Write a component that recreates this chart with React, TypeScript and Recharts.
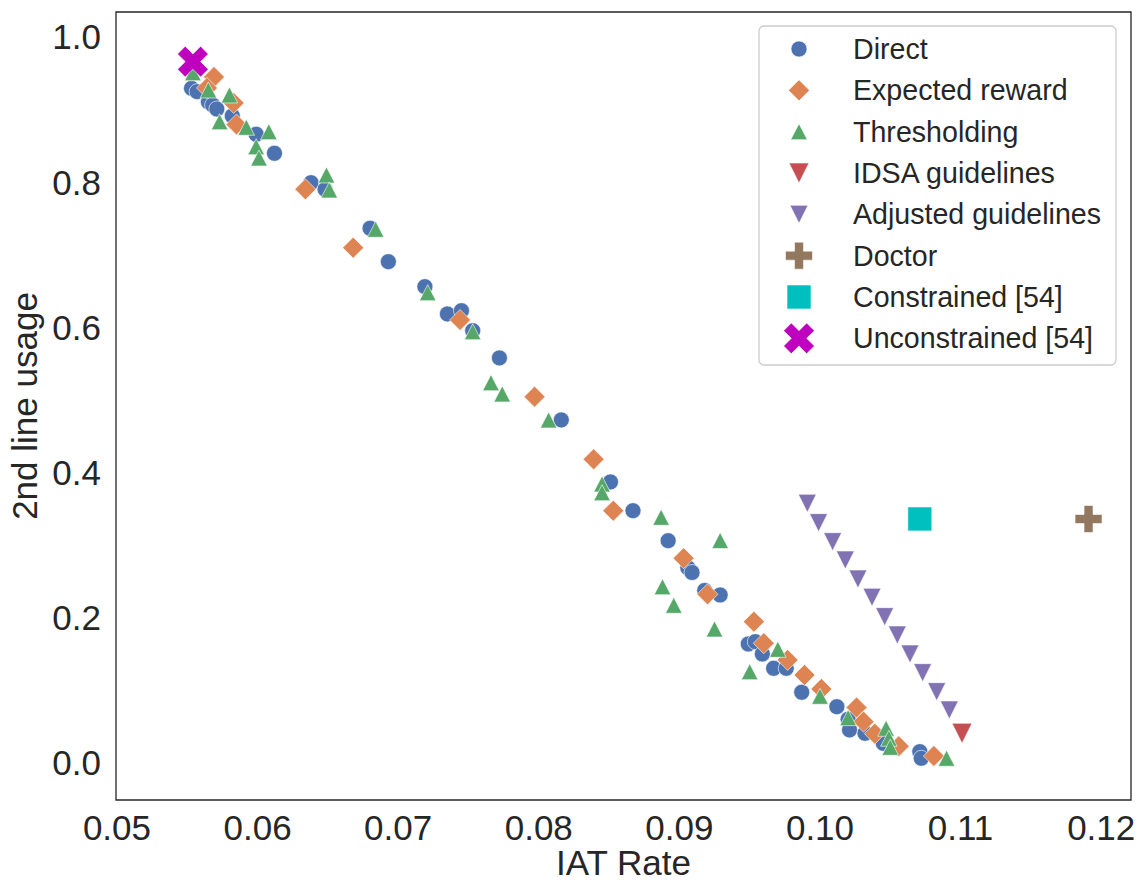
import { ScatterChart, Scatter, XAxis, YAxis, ReferenceArea } from "recharts";

// ---- data ----
const directX = [0.0553, 0.0557, 0.0565, 0.0568, 0.0571, 0.0582, 0.0599, 0.0612, 0.0638, 0.0648, 0.0680, 0.0693, 0.0719, 0.0735, 0.0745, 0.0753, 0.0772, 0.0816, 0.0851, 0.0867, 0.0892, 0.0906, 0.0909, 0.0918, 0.0929, 0.0949, 0.0954, 0.0959, 0.0967, 0.0976, 0.0987, 0.1012, 0.1020, 0.1021, 0.1032, 0.1045, 0.1071, 0.1072];
const directY = [0.9293, 0.9247, 0.9105, 0.9063, 0.9008, 0.8912, 0.8660, 0.8398, 0.7993, 0.7902, 0.7365, 0.6905, 0.6561, 0.6185, 0.6230, 0.5955, 0.5579, 0.4725, 0.3871, 0.3475, 0.3062, 0.2689, 0.2624, 0.2376, 0.2314, 0.1639, 0.1671, 0.1501, 0.1304, 0.1304, 0.0974, 0.0775, 0.0602, 0.0455, 0.0409, 0.0271, 0.0156, 0.0065];

const rewardX = [0.0569, 0.0564, 0.0583, 0.0585, 0.0634, 0.0668, 0.0744, 0.0797, 0.0839, 0.0853, 0.0903, 0.0920, 0.0953, 0.0960, 0.0977, 0.0989, 0.1001, 0.1026, 0.1031, 0.1039, 0.1056, 0.1081];
const rewardY = [0.9449, 0.9298, 0.9091, 0.8795, 0.7902, 0.7098, 0.6102, 0.5045, 0.4183, 0.3475, 0.2820, 0.2324, 0.1946, 0.1649, 0.1419, 0.1212, 0.1019, 0.0764, 0.0569, 0.0404, 0.0230, 0.0096];

const threshX = [0.0554, 0.0565, 0.0580, 0.0573, 0.0592, 0.0608, 0.0599, 0.0601, 0.0649, 0.0651, 0.0684, 0.0721, 0.0753, 0.0766, 0.0774, 0.0807, 0.0845, 0.0845, 0.0887, 0.0929, 0.0888, 0.0896, 0.0925, 0.0950, 0.0970, 0.1000, 0.1020, 0.1047, 0.1049, 0.1050, 0.1090];
const threshY = [0.9508, 0.9270, 0.9201, 0.8833, 0.8756, 0.8696, 0.8489, 0.8333, 0.8099, 0.7893, 0.7351, 0.6478, 0.5941, 0.5238, 0.5083, 0.4725, 0.3843, 0.3723, 0.3384, 0.3065, 0.2428, 0.2172, 0.1846, 0.1258, 0.1566, 0.0919, 0.0624, 0.0478, 0.0340, 0.0216, 0.0065];

const idsaX = [0.1101];
const idsaY = [0.0409];

const adjustedX = [0.0991, 0.0999, 0.1009, 0.1018, 0.1027, 0.1037, 0.1046, 0.1055, 0.1064, 0.1073, 0.1083, 0.1092];
const adjustedY = [0.3577, 0.3310, 0.3048, 0.2796, 0.2534, 0.2282, 0.2015, 0.1763, 0.1501, 0.1244, 0.0982, 0.0730];

const doctorX = [0.1191];
const doctorY = [0.3361];
const constrainedX = [0.1071];
const constrainedY = [0.3361];
const unconstrainedX = [0.0554];
const unconstrainedY = [0.966];

const xTicks = [0.05, 0.06, 0.07, 0.08, 0.09, 0.10, 0.11, 0.12];
const yTicks = [0.0, 0.2, 0.4, 0.6, 0.8, 1.0];
const X_DOMAIN = [0.04993, 0.12212];
const Y_DOMAIN = [-0.051, 1.0344];

const pts = (xs: number[], ys: number[]) => xs.map((x, i) => ({ x, y: ys[i] }));

type Kind = "circle" | "diamond" | "up" | "down" | "downBig" | "plus" | "square" | "cross";

const SERIES: { name: string; kind: Kind; color: string; data: { x: number; y: number }[] }[] = [
  { name: "Direct", kind: "circle", color: "#4C72B0", data: pts(directX, directY) },
  { name: "Expected reward", kind: "diamond", color: "#DD8452", data: pts(rewardX, rewardY) },
  { name: "Thresholding", kind: "up", color: "#55A868", data: pts(threshX, threshY) },
  { name: "IDSA guidelines", kind: "downBig", color: "#C44E52", data: pts(idsaX, idsaY) },
  { name: "Adjusted guidelines", kind: "down", color: "#8172B3", data: pts(adjustedX, adjustedY) },
  { name: "Doctor", kind: "plus", color: "#937860", data: pts(doctorX, doctorY) },
  { name: "Constrained [54]", kind: "square", color: "#00BFBF", data: pts(constrainedX, constrainedY) },
  { name: "Unconstrained [54]", kind: "cross", color: "#BF00BF", data: pts(unconstrainedX, unconstrainedY) },
];

const FONT = "'Liberation Sans', Arial, Helvetica, sans-serif";
const INK = "#262626";

function plusPoly(s: number, rot: boolean) {
  const a = s / 3;
  const raw = [[-a, -s], [a, -s], [a, -a], [s, -a], [s, a], [a, a], [a, s], [-a, s], [-a, a], [-s, a], [-s, -a], [-a, -a]];
  return raw.map(([x, y]) => (rot ? [(x - y) / Math.SQRT2, (x + y) / Math.SQRT2] : [x, y]));
}

function Marker({ kind, cx, cy, color }: { kind: Kind; cx: number; cy: number; color: string }) {
  const common = { fill: color, stroke: "#fff", strokeWidth: 0.6 };
  const poly = (p: number[][]) => <polygon points={p.map(([x, y]) => `${cx + x},${cy + y}`).join(" ")} {...common} />;
  switch (kind) {
    case "circle":
      return <circle cx={cx} cy={cy} r={8} {...common} />;
    case "diamond":
      return poly([[0, -10.5], [10.5, 0], [0, 10.5], [-10.5, 0]]);
    case "up":
      return poly([[0, -8], [8.3, 8], [-8.3, 8]]);
    case "down":
      return poly([[-9, -9], [9, -9], [0, 9]]);
    case "downBig":
      return poly([[-10, -10], [10, -10], [0, 10]]);
    case "square":
      return poly([[-12, -12], [12, -12], [12, 12], [-12, 12]]);
    case "plus":
      return poly(plusPoly(13.5, false));
    case "cross":
      return poly(plusPoly(16.3, true));
  }
  return null;
}

const XTick = ({ x, y, payload }: any) => (
  <text x={x} y={y + 40} textAnchor="middle" fontSize={35} fontFamily={FONT} fill={INK}>
    {Number(payload.value).toFixed(2)}
  </text>
);

const YTick = ({ x, y, payload }: any) => (
  <text x={x - 15} y={y + 12.5} textAnchor="end" fontSize={35} fontFamily={FONT} fill={INK}>
    {Number(payload.value).toFixed(1)}
  </text>
);

const XTitle = ({ viewBox }: any) => (
  <text x={viewBox.x + viewBox.width / 2} y={viewBox.y + 75} textAnchor="middle" fontSize={35} fontFamily={FONT} fill={INK}>
    IAT Rate
  </text>
);

const YTitle = ({ viewBox }: any) => {
  const cx = 37;
  const cy = viewBox.y + viewBox.height / 2;
  return (
    <text x={cx} y={cy} transform={`rotate(-90 ${cx} ${cy})`} textAnchor="middle" fontSize={35} fontFamily={FONT} fill={INK}>
      2nd line usage
    </text>
  );
};

function LegendBox() {
  const rowH = 41.33;
  return (
    <svg width={360} height={342} style={{ position: "absolute", left: 758, top: 25 }}>
      <rect x={1} y={1} width={357} height={339} rx={5} fill="#fff" fillOpacity={0.85} stroke="#cccccc" strokeWidth={1.3} />
      {SERIES.map((s, i) => {
        const cy = 24 + i * rowH;
        return (
          <g key={s.name}>
            <Marker kind={s.kind} cx={41} cy={cy} color={s.color} />
            <text x={95} y={cy + 10} fontSize={28.6} fontFamily={FONT} fill={INK}>{s.name}</text>
          </g>
        );
      })}
    </svg>
  );
}

export default function App() {
  return (
    <div style={{ position: "absolute", left: 0, top: 0, width: 1141, height: 883, background: "#fff" }}>
      <ScatterChart width={1141} height={883} margin={{ top: 12, right: 10, bottom: 0, left: 0 }}>
        <XAxis
          type="number" dataKey="x" domain={X_DOMAIN} ticks={xTicks} allowDataOverflow
          height={83} tickLine={false} axisLine={false} tickSize={0} tickMargin={0}
          tick={<XTick />} label={XTitle}
        />
        <YAxis
          type="number" dataKey="y" domain={Y_DOMAIN} ticks={yTicks} allowDataOverflow
          width={116} tickLine={false} axisLine={false} tickSize={0} tickMargin={0}
          tick={<YTick />} label={YTitle}
        />
        {SERIES.map((s) => (
          <Scatter
            key={s.name} name={s.name} data={s.data} isAnimationActive={false}
            shape={(p: any) => <Marker kind={s.kind} cx={p.cx} cy={p.cy} color={s.color} />}
          />
        ))}
        <ReferenceArea
          x1={X_DOMAIN[0]} x2={X_DOMAIN[1]} y1={Y_DOMAIN[0]} y2={Y_DOMAIN[1]}
          fill="none" stroke={INK} strokeWidth={1.3} ifOverflow="visible"
        />
      </ScatterChart>
      <LegendBox />
    </div>
  );
}
